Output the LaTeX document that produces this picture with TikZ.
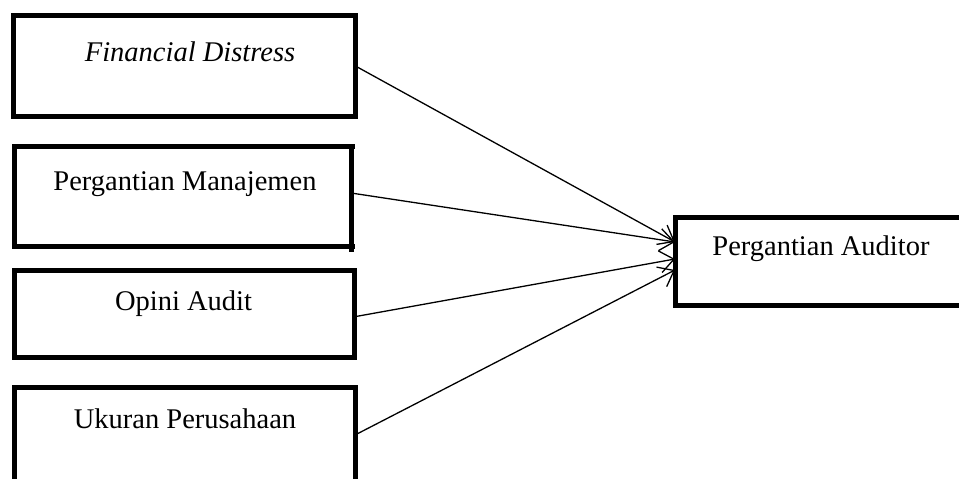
\documentclass[tikz,border=0pt]{standalone}
\usepackage{fontspec}
\setmainfont{Liberation Serif}
\usetikzlibrary{arrows.meta}
\begin{document}
\begin{tikzpicture}[x=1pt,y=-1pt,
  box/.style={draw, line width=5pt, rectangle, inner sep=0pt, outer sep=0pt},
  lbl/.style={anchor=base, font=\fontsize{28.5}{34}\selectfont, inner sep=0pt},
  link/.style={line width=1.3pt, -{Straight Barb[length=14pt,width=22pt]}}]
\useasboundingbox (0,0) rectangle (959,479);
\clip (0,0) rectangle (959,479);
% boxes
\node[box, minimum width=341.5pt, minimum height=101.5pt] (b1) at (184.25,65.75) {};
\node[box, minimum width=337pt, minimum height=100pt] (b2) at (182.5,196) {};
\node[box, minimum width=340.5pt, minimum height=87.5pt] (b3) at (184.25,313.75) {};
\node[box, minimum width=341pt, minimum height=96pt] (b4) at (184.5,435) {};
\node[box, minimum width=293pt, minimum height=88pt] (out) at (821.5,261.5) {};
% quirks of the second box
\draw[line width=5pt] (b2.north east) -- ++(4,0);
\draw[line width=5pt] (b2.south east) -- ++(4,0);
\draw[line width=5pt] (b2.south east) -- ++(0,6);
% labels
\node[lbl] (t1) at (190,61) {\textit{Financial Distress}};
\node[lbl] (t2) at (185,190.5) {Pergantian Manajemen};
\node[lbl] (t3) at (183.5,310) {Opini Audit};
\node[lbl] (t4) at (185,428) {Ukuran Perusahaan};
\node[lbl] (t5) at (821,255) {Pergantian Auditor};
% connectors
\draw[link] (b1.east) -- ([yshift=19.5pt]out.west);
\draw[link] ([yshift=3pt]b2.east) -- ([yshift=19.5pt]out.west);
\draw[link] ([yshift=-3pt]b3.east) -- ([yshift=2.5pt]out.west);
\draw[link] (b4.east) -- ([yshift=-8.5pt]out.west);
\end{tikzpicture}
\end{document}
